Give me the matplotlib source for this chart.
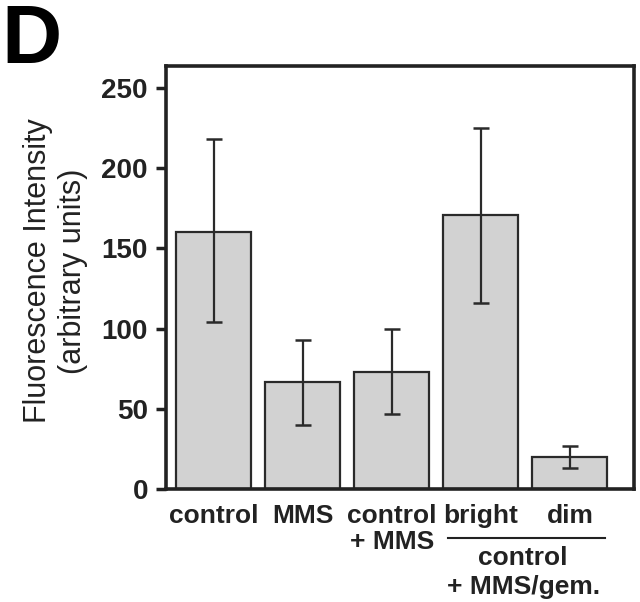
import matplotlib
matplotlib.use("Agg")
import matplotlib.pyplot as plt

categories = ["control", "MMS", "control\n+ MMS", "bright", "dim"]
means = [160, 67, 73, 171, 20]
err_low = [104, 40, 47, 116, 13]
err_high = [218, 93, 100, 225, 27]
yticks = [0, 50, 100, 150, 200, 250]

plt.rcParams["font.family"] = ["Liberation Sans", "DejaVu Sans"]

fig = plt.figure(figsize=(6.4, 6.02), dpi=100)
# axes box in pixels: left 166, right 634, top 66, bottom 489
ax = fig.add_axes([166 / 640, 1 - 489 / 602, 468 / 640, 423 / 602])

x = list(range(len(categories)))
yerr = [[m - lo for m, lo in zip(means, err_low)],
        [hi - m for m, hi in zip(means, err_high)]]
ax.bar(x, means, width=0.84, color="#d2d2d2", edgecolor="#2a2a2a", linewidth=1.6, zorder=2)
ax.errorbar(x, means, yerr=yerr, fmt="none", ecolor="#2a2a2a", elinewidth=1.6,
            capsize=6, capthick=1.8, zorder=3)

ax.set_xlim(-0.534, 4.72)
ax.set_ylim(0, 263.7)
ax.set_yticks(yticks)
ax.set_yticklabels([str(t) for t in yticks], fontsize=20, fontweight="bold", color="#222222")
ax.set_xticks(x)
ax.set_xticklabels(categories, fontsize=19, fontweight="bold", color="#222222", linespacing=1.1)
ax.tick_params(axis="x", length=0, pad=11)
ax.tick_params(axis="y", direction="out", length=7, width=2.5, pad=6, color="#222222")
for s in ax.spines.values():
    s.set_linewidth(2.6)
    s.set_color("#222222")

fig.text(38 / 640, 1 - 271 / 602, "Fluorescence Intensity", rotation=90, ha="center",
         va="center", fontsize=22, color="#222222")
fig.text(73 / 640, 1 - 271 / 602, "(arbitrary units)", rotation=90, ha="center",
         va="center", fontsize=22, color="#222222")

# group bracket under bright / dim
fig.add_artist(plt.Line2D([448 / 640, 605 / 640], [1 - 538 / 602, 1 - 538 / 602],
                          color="#222222", linewidth=1.5))
fig.text(523 / 640, 1 - 565 / 602, "control", ha="center", va="baseline",
         fontsize=19, fontweight="bold", color="#222222")
fig.text(524 / 640, 1 - 594 / 602, "+ MMS/gem.", ha="center", va="baseline",
         fontsize=19, fontweight="bold", color="#222222")

fig.text(1 / 640, 1 - 63 / 602, "D", ha="left", va="baseline", fontsize=60,
         fontweight="bold", color="black")

plt.savefig("out.png", dpi=100)
